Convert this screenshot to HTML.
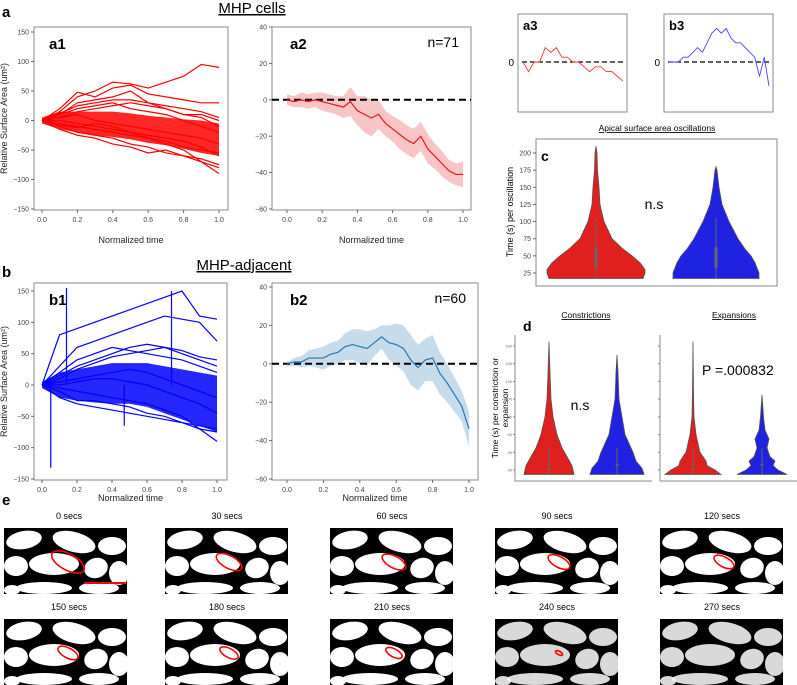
<!DOCTYPE html>
<html><head><meta charset="utf-8"><style>
html,body{margin:0;padding:0;background:#fff}
svg{display:block;font-family:"Liberation Sans",sans-serif}
.tk{font-size:7px;fill:#444}
</style></head><body>
<svg id="fig" width="797" height="685" viewBox="0 0 797 685">
<g id="root"></g>
</svg>
<script>
// ---------- data ----------
const tX = [0,0.1,0.2,0.3,0.4,0.5,0.6,0.7,0.8,0.9,1.0];
const a1Upper = [5,15,15,15,15,12,8,5,2,0,-5];
const a1Lower = [-5,-15,-20,-25,-28,-32,-38,-42,-48,-55,-60];
const a1Traces = [
 [0,15,40,50,65,62,55,65,75,95,90],[0,20,48,40,55,60,45,40,35,30,30],
 [0,10,30,35,40,50,30,20,10,5,-10],[0,5,15,20,25,30,25,20,10,10,0],
 [0,-5,-10,-15,-20,-25,-30,-40,-50,-70,-90],[0,-10,-20,-25,-30,-40,-45,-55,-60,-70,-80],
 [0,-15,-25,-30,-40,-45,-55,-50,-60,-65,-75],[0,0,-5,-10,-15,-20,-25,-30,-35,-45,-60],
 [0,5,10,0,-5,-10,-15,-20,-25,-30,-40],[0,10,20,25,30,20,15,10,0,-10,-20],
 [0,-8,-12,-5,-10,-20,-30,-35,-45,-50,-55],[0,12,25,30,35,35,30,25,20,15,5]];
const b1Upper = [5,20,25,30,35,35,35,30,25,20,15];
const b1Lower = [-5,-20,-25,-28,-30,-30,-35,-45,-55,-65,-75];
const b1Traces = [
 [0,80,90,100,110,120,130,140,150,110,105],[0,30,60,70,80,90,100,110,105,100,70],
 [0,20,40,50,60,55,50,45,40,30,20],[0,10,25,35,45,50,55,60,50,40,30],
 [0,5,10,15,20,25,20,10,0,-10,-20],[0,-5,-10,-15,-20,-25,-30,-40,-50,-70,-90],
 [0,-20,-30,-35,-40,-45,-50,-55,-60,-70,-75],[0,0,5,10,10,5,0,-10,-20,-30,-45],
 [0,-10,-25,-25,-30,-35,-45,-50,-60,-65,-70],[0,15,30,40,50,60,65,60,55,45,40]];
const b1SpikeX = [0.05,0.14,0.47,0.74];
const b1SpikeY = [-132,155,-65,150];
const a2Mean = [0,-1,0,-1,0,-1,-2,-3,-4,-1,-6,-8,-10,-8,-13,-16,-19,-22,-24,-20,-27,-31,-35,-39,-41,-41];
const a2Band = [3,3,4,4,4,5,5,5,6,8,8,10,10,8,7,7,8,8,8,8,8,7,7,6,6,7];
const b2Mean = [0,1,1,3,3,3,5,6,9,10,9,8,11,14,11,10,8,2,-2,2,3,-5,-10,-16,-22,-34];
const b2Band = [1,2,3,4,5,6,6,6,7,8,9,9,7,6,9,11,12,13,12,11,12,11,10,9,8,9];
const a3Vals = [0,-2,0,0,3,2,3,1,1,0,0,-1,-2,-1,-1,-2,-2,-3,-4];
const b3Vals = [0,0,0,1,1,2,3,2,4,6,7,6,7,5,4,4,3,2,1,-3,1,-5];
const cRedY = [17,25,30,40,50,60,75,100,125,150,175,200,210];
const cRedW = [47,49,49,44,36,27,16,8,4,3,1.5,1,0];
const cBlueY = [17,25,40,50,60,75,100,125,150,175,180];
const cBlueW = [43,43,39,35,29,22,13,6,3,1,0];
const dConRedY=[15,25,35,45,60,80,100,130,165], dConRedW=[25,23,18,13,8,4,2,1,0];
const dConBlueY=[15,22,30,40,50,60,80,100,130,150], dConBlueW=[27,25,19,16,12,8,5,2,1,0];
const dExpRedY=[15,20,25,30,40,50,60,80,100,165], dExpRedW=[28,22,14,13,7,5,3,1,0.6,0];
const dExpBlueY=[15,20,25,30,35,45,55,65,80,105], dExpBlueW=[25,16,11,13,8,5,7,3,1.5,0];
const frameLabels = ["0 secs","30 secs","60 secs","90 secs","120 secs","150 secs","180 secs","210 secs","240 secs","270 secs"];
const outlineRx = [18,14,13,12,11,11,10,9,4,0];

// ---------- helpers ----------
const NS="http://www.w3.org/2000/svg";
const root=document.getElementById('root');
function el(tag,attrs,parent){const e=document.createElementNS(NS,tag);for(const k in attrs)e.setAttribute(k,attrs[k]);(parent||root).appendChild(e);return e;}
function txt(x,y,s,attrs,parent){const t=el('text',Object.assign({x:x,y:y},attrs||{}),parent);t.textContent=s;return t;}
function scale(d0,d1,r0,r1){return v=>r0+(v-d0)*(r1-r0)/(d1-d0);}

function axesBox(x0,y0,x1,y1,name){
  const r=el('rect',{x:x0,y:y0,width:x1-x0,height:y1-y0,fill:'none',stroke:'#888','stroke-width':1});
  
  
}
function xTicks(sx,y,vals,labels){vals.forEach((v,i)=>{el('line',{x1:sx(v),x2:sx(v),y1:y,y2:y+3,stroke:'#666'});txt(sx(v),y+12,labels[i],{class:'tk','text-anchor':'middle'});});}
function yTicks(sy,x,vals,labels){vals.forEach((v,i)=>{el('line',{x1:x-3,x2:x,y1:sy(v),y2:sy(v),stroke:'#666'});txt(x-5,sy(v)+2.5,labels[i],{class:'tk','text-anchor':'end'});});}
const xtv=[0,0.2,0.4,0.6,0.8,1.0], xtl=["0.0","0.2","0.4","0.6","0.8","1.0"];

function label(x,y,s,size,name,extra){const t=txt(x,y,s,Object.assign({'font-size':size,'font-weight':'bold'},extra||{}));return t;}
label(2,17,'a',15,'panel-a-letter');
let t=txt(252,13,'MHP cells',{'font-size':15,'text-anchor':'middle','text-decoration':'underline'});

label(2,277,'b',15,'panel-b-letter');
t=txt(244,270,'MHP-adjacent',{'font-size':15,'text-anchor':'middle','text-decoration':'underline'});


// ---------- a1 / b1 ----------
function spaghetti(x0,y0,x1,y1,xs0,xs1,ys0,ys1,upper,lower,traces,color,tag,letter,labOff){
  axesBox(x0,y0,x1,y1,tag+'-axes');
  const sx=scale(0,1,xs0,xs1), sy=scale(150,-150,ys0,ys1);
  let d='';tX.forEach((v,i)=>d+=(i?'L':'M')+sx(v)+','+sy(upper[i]));
  for(let i=tX.length-1;i>=0;i--)d+='L'+sx(tX[i])+','+sy(lower[i]);
  const core=el('path',{d:d+'Z',fill:color,opacity:0.85});
  
  traces.forEach((tr,k)=>{let p='';tr.forEach((v,i)=>p+=(i?'L':'M')+sx(tX[i])+','+sy(v));
    const l=el('path',{d:p,fill:'none',stroke:color,'stroke-width':1.2});
    });
  yTicks(sy,x0,[150,100,50,0,-50,-100,-150],["150","100","50","0","\u221250","\u2212100","\u2212150"]);
  xTicks(sx,y1,xtv,xtl);
  label(x0+15,y0+22,letter,15,tag+'-label');
  t=txt(7,(y0+y1)/2,'Relative Surface Area (um\u00b2)',{'font-size':9,'text-anchor':'middle',transform:'rotate(-90 7 '+((y0+y1)/2)+')',fill:'#222'});
  
  t=txt((x0+x1)/2,y1+labOff,'Normalized time',{'font-size':9,'text-anchor':'middle',fill:'#222'});
  
  return {sx,sy};
}
spaghetti(34,27,228,210,42,219,32,209,a1Upper,a1Lower,a1Traces,'#f00','a1','a1',33);
const b1s=spaghetti(34,283,227,480,42,217,291,479,b1Upper,b1Lower,b1Traces,'#00f','b1','b1',21);
b1SpikeX.forEach((x,i)=>{const l=el('line',{x1:b1s.sx(x),x2:b1s.sx(x),y1:b1s.sy(0),y2:b1s.sy(b1SpikeY[i]),stroke:'#00f','stroke-width':1.2});
  });

// ---------- a2 / b2 ----------
function meanPanel(x0,y0,x1,y1,xs0,xs1,ys0,ys1,mean,band,line,fill,tag,letter,n,labOff){
  axesBox(x0,y0,x1,y1,tag+'-axes');
  const sx=scale(0,1,xs0,xs1), sy=scale(40,-60,ys0,ys1);
  const N=mean.length;
  let d='';for(let i=0;i<N;i++)d+=(i?'L':'M')+sx(i/(N-1))+','+sy(mean[i]+band[i]);
  for(let i=N-1;i>=0;i--)d+='L'+sx(i/(N-1))+','+sy(mean[i]-band[i]);
  const b=el('path',{d:d+'Z',fill:fill});
  const z=el('line',{x1:x0,x2:x1,y1:sy(0),y2:sy(0),stroke:'#000','stroke-width':2,'stroke-dasharray':'7,4'});
  
  let p='';mean.forEach((v,i)=>p+=(i?'L':'M')+sx(i/(N-1))+','+sy(v));
  const m=el('path',{d:p,fill:'none',stroke:line,'stroke-width':1.2});
  yTicks(sy,x0,[40,20,0,-20,-40,-60],["40","20","0","\u221220","\u221240","\u221260"]);
  xTicks(sx,y1,xtv,xtl);
  label(x0+18,y0+22,letter,15,tag+'-label');
  t=txt(x1-12,y0+20,n,{'font-size':14,'text-anchor':'end'});
  t=txt((x0+x1)/2,y1+labOff,'Normalized time',{'font-size':9,'text-anchor':'middle',fill:'#222'});
  
}
meanPanel(272,27,471,210,287,463,27,209,a2Mean,a2Band,'#e8161b','#f9c5c7','a2','a2','n=71',33);
meanPanel(272,283,478,480,287,469,287,479,b2Mean,b2Band,'#2278b5','#c6dcec','b2','b2','n=60',21);

// ---------- a3 / b3 ----------
function mini(x0,x1,vals,color,tag,letter){
  const y0=14,y1=112;axesBox(x0,y0,x1,y1,tag+'-axes');
  const sx=scale(0,vals.length-1,x0+5,x1-4), sy=scale(0,10,62,14);
  const z=el('line',{x1:x0+4,x2:x1-4,y1:62,y2:62,stroke:'#000','stroke-width':1.3,'stroke-dasharray':'5,3'});
  
  let p='';vals.forEach((v,i)=>p+=(i?'L':'M')+sx(i)+','+sy(v));
  const m=el('path',{d:p,fill:'none',stroke:color,'stroke-width':0.9});
  txt(x0-4,66,'0',{'font-size':10,'text-anchor':'end'});
  label(x0+5,y0+16,letter,13,tag+'-label');
}
mini(518,627,a3Vals,'#f33','a3','a3');
mini(664,773,b3Vals,'#44f','b3','b3');

// ---------- c ----------
t=txt(657,131,'Apical surface area oscillations',{'font-size':8.5,'text-anchor':'middle','text-decoration':'underline'});

axesBox(536,139,777,286,'c-axes');
const cy=scale(200,25,153,273);
function violin(cx,ys,ws,sy,color,name,k,boxTop,boxBot){
  let d='';ys.forEach((v,i)=>d+=(i?'L':'M')+(cx+ws[i]*k)+','+sy(v));
  for(let i=ys.length-1;i>=0;i--)d+='L'+(cx-ws[i]*k)+','+sy(ys[i]);
  const p=el('path',{d:d+'Z',fill:color,stroke:'#555','stroke-width':0.8});
  
  el('line',{x1:cx,x2:cx,y1:sy(boxTop),y2:sy(ys[0]),stroke:'#666','stroke-width':1});
  el('rect',{x:cx-1.5,y:sy(boxTop*0.6),width:3,height:sy(boxBot)-sy(boxTop*0.6),fill:'#666'});
}
violin(596,cRedY,cRedW,cy,'#e01f1f','c-red-violin',1,105,32);
violin(716,cBlueY,cBlueW,cy,'#1f22e0','c-blue-violin',1,105,32);
yTicks(cy,536,[200,175,150,125,100,75,50,25],["200","175","150","125","100","75","50","25"]);
label(541,161,'c',14,'c-letter');
txt(654,209,'n.s',{'font-size':14,'text-anchor':'middle'});
t=txt(513,212,'Time (s)  per oscillation',{'font-size':9,'text-anchor':'middle',transform:'rotate(-90 513 212)'});


// ---------- d ----------
const dy=scale(160,20,346,470);
t=txt(586,318,'Constrictions',{'font-size':8.5,'text-anchor':'middle','text-decoration':'underline'});
t=txt(734,318,'Expansions',{'font-size':8.5,'text-anchor':'middle','text-decoration':'underline'});
label(523,331,'d',14,'d-letter');
[[515,652],[660,797]].forEach((a,i)=>{
  el('line',{x1:a[0],x2:a[0],y1:335,y2:481,stroke:'#888'});
  el('line',{x1:a[0],x2:a[1],y1:481,y2:481,stroke:'#888'});
  [160,140,120,100,80,60,40,20].forEach(v=>{el('line',{x1:a[0]-2,x2:a[0],y1:dy(v),y2:dy(v),stroke:'#888'});
    if(i===0)txt(a[0]-3,dy(v)+1.5,String(v),{'font-size':4,'text-anchor':'end',fill:'#666'});});
});
violin(549,dConRedY,dConRedW,dy,'#e01f1f','d-constriction-red-violin',1,45,25);
violin(617,dConBlueY,dConBlueW,dy,'#1f22e0','d-constriction-blue-violin',1,45,25);
violin(693,dExpRedY,dExpRedW,dy,'#e01f1f','d-expansion-red-violin',1,45,25);
violin(762,dExpBlueY,dExpBlueW,dy,'#1f22e0','d-expansion-blue-violin',1,45,25);
txt(580,410,'n.s',{'font-size':14,'text-anchor':'middle'});
t=txt(702,375,'P =.000832',{'font-size':14,'text-anchor':'start'});
t=txt(498,408,'Time (s) per constriction or',{'font-size':8.5,'text-anchor':'middle',transform:'rotate(-90 498 408)'});
t=txt(508,408,'expansion',{'font-size':8.5,'text-anchor':'middle',transform:'rotate(-90 508 408)'});

// ---------- e ----------
label(2,505,'e',15,'panel-e-letter');
const blobs=[[20,12,18,9,-10],[70,14,22,10,15],[108,18,14,9,0],[12,38,12,10,0],[50,36,25,11,0],[92,40,12,10,-20],[115,45,10,12,0],[40,60,28,6,0],[95,60,20,6,0],[8,62,8,5,0]];
const colX=[4,165,330,495,660];
for(let f=0;f<10;f++){
  const gx=colX[f%5], gy=f<5?528:619, w=123, h=66;
  const g=el('g',{transform:'translate('+gx+','+gy+')'});
  
  el('rect',{x:0,y:0,width:w,height:h,fill:'#000'},g);
  blobs.forEach(b=>el('ellipse',{cx:b[0],cy:b[1],rx:b[2],ry:b[3],fill:'#fff',transform:'rotate('+b[4]+' '+b[0]+' '+b[1]+')',opacity:f>=8?0.85:1},g));
  if(outlineRx[f]>0)el('ellipse',{cx:64,cy:34,rx:outlineRx[f],ry:outlineRx[f]*0.45,fill:'none',stroke:'#f00','stroke-width':1.6,transform:'rotate(28 64 34)'},g);
  if(f===0)el('line',{x1:80,x2:122,y1:55,y2:55,stroke:'#f00','stroke-width':2},g);
  const lt=txt(gx+(f%5===0?65:62),gy-9,frameLabels[f],{'font-size':9,'text-anchor':'middle'});
  
}
</script>
</body></html>
